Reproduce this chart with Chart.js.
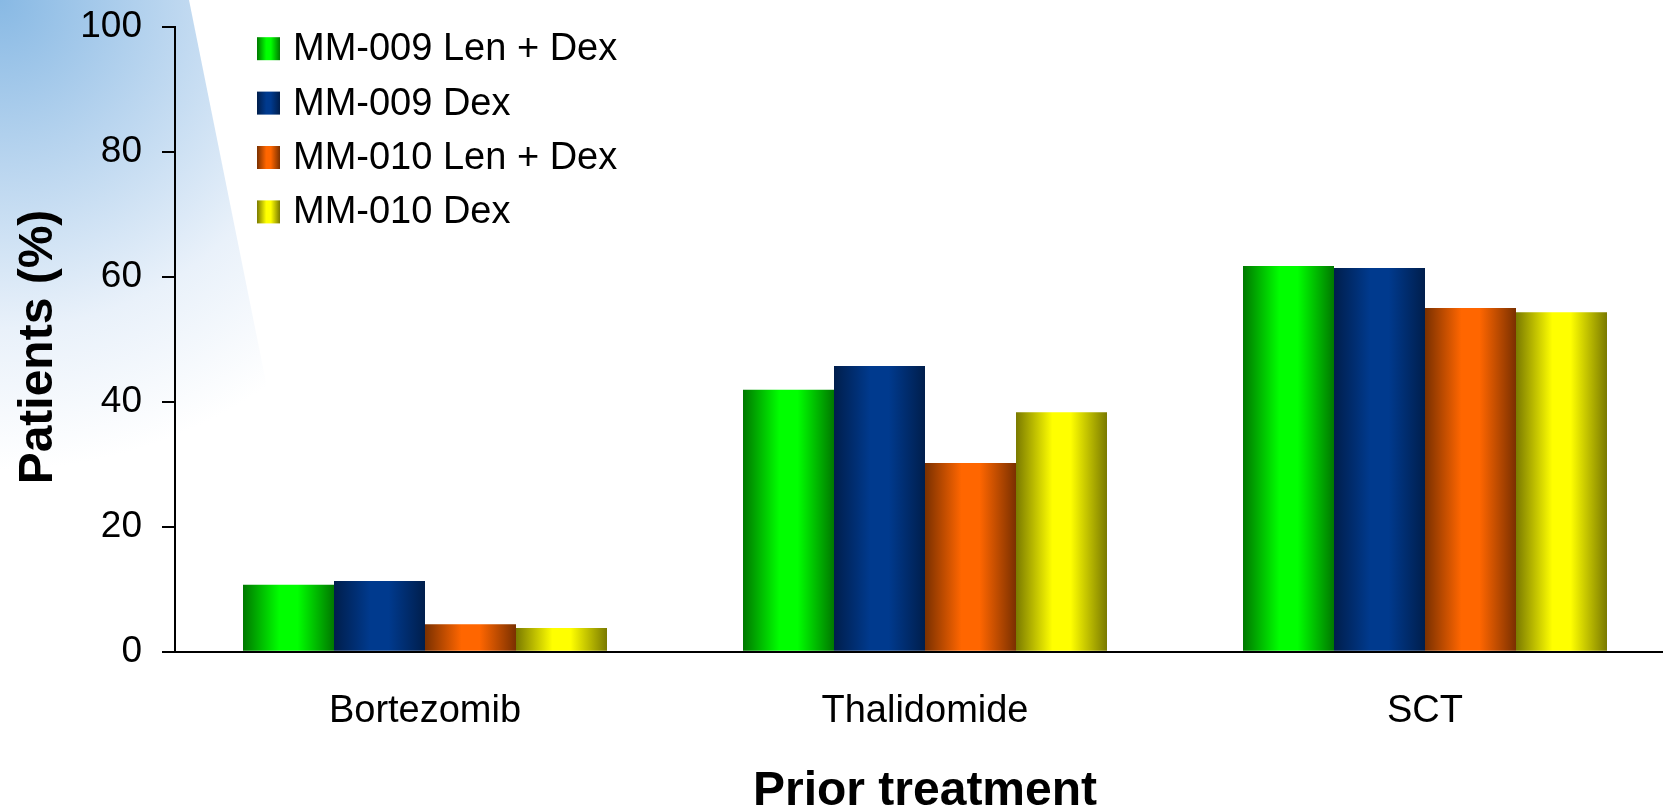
<!DOCTYPE html>
<html>
<head>
<meta charset="utf-8">
<script src="https://cdn.jsdelivr.net/npm/chart.js@4.4.1/dist/chart.umd.min.js"></script>
<style>
  html, body { margin: 0; padding: 0; background: #fff; overflow: hidden; }
  #wrap { width: 1663px; height: 809px; position: relative; overflow: hidden; }
</style>
</head>
<body>
<div id="wrap"><canvas id="c" width="1675" height="809"></canvas></div>
<script>
// ---- data ----
const categories = ['Bortezomib', 'Thalidomide', 'SCT'];
const seriesNames = ['MM-009 Len + Dex', 'MM-009 Dex', 'MM-010 Len + Dex', 'MM-010 Dex'];
const mm009LenDex = [10.7, 41.9, 61.7];
const mm009Dex    = [11.3, 45.7, 61.4];
const mm010LenDex = [4.4, 30.2, 55.0];
const mm010Dex    = [3.8, 38.3, 54.3];
const yTicks = [0, 20, 40, 60, 80, 100];
const yTitle = 'Patients (%)';

// edge / centre colours for the cylinder-style shading of each series
const shades = [
  ['#007800', '#00ff00'],
  ['#001e4c', '#003a8e'],
  ['#7a3000', '#ff6600'],
  ['#7a7a00', '#ffff00']
];

const FONT = "'Liberation Sans', Arial, Helvetica, sans-serif";

function cylinder(ctx, x0, x1, pair) {
  const g = ctx.createLinearGradient(x0, 0, x1, 0);
  g.addColorStop(0, pair[0]);
  g.addColorStop(0.4, pair[1]);
  g.addColorStop(0.6, pair[1]);
  g.addColorStop(1, pair[0]);
  return g;
}

// soft blue wedge in the top-left corner of the slide background
const backdrop = {
  id: 'backdrop',
  beforeDraw(chart) {
    const ctx = chart.ctx;
    ctx.save();
    ctx.fillStyle = '#ffffff';
    ctx.fillRect(0, 0, chart.width, chart.height);
    ctx.beginPath();
    ctx.moveTo(0, 0);
    ctx.lineTo(189, 0);
    ctx.lineTo(330, 700);
    ctx.lineTo(0, 700);
    ctx.closePath();
    ctx.clip();
    const g = ctx.createRadialGradient(0, 0, 0, 0, 0, 470);
    g.addColorStop(0, '#88b9e4');
    g.addColorStop(0.35, '#b9d5ef');
    g.addColorStop(0.7, '#e9f1fa');
    g.addColorStop(1, '#ffffff');
    ctx.fillStyle = g;
    ctx.fillRect(0, 0, 400, 720);
    ctx.restore();
  }
};

// horizontal shading for every bar, built from each bar's own geometry
const shading = {
  id: 'shading',
  beforeDatasetsDraw(chart) {
    const ctx = chart.ctx;
    chart.data.datasets.forEach((ds, i) => {
      const meta = chart.getDatasetMeta(i);
      meta.data.forEach(el => {
        const p = el.getProps(['x', 'width'], true);
        const g = cylinder(ctx, p.x - p.width / 2, p.x + p.width / 2, shades[i]);
        el.options = Object.assign({}, el.options, { backgroundColor: g });
      });
    });
  }
};

// vertical legend inside the plot area, plus the rotated value-axis title
const legendList = {
  id: 'legendList',
  afterDatasetsDraw(chart) {
    const ctx = chart.ctx;
    const box = 23, bx = 257, tx = 293, y0 = 48.7, step = 54.4;
    ctx.save();
    ctx.font = '38px ' + FONT;
    ctx.textBaseline = 'middle';
    ctx.textAlign = 'left';
    chart.data.datasets.forEach((ds, i) => {
      const cy = y0 + i * step;
      ctx.fillStyle = cylinder(ctx, bx, bx + box, shades[i]);
      ctx.fillRect(bx, cy - box / 2, box, box);
      ctx.fillStyle = '#000';
      ctx.fillText(ds.label, tx, cy + 1);
    });
    ctx.restore();

    ctx.save();
    ctx.translate(38.5, 347);
    ctx.rotate(-Math.PI / 2);
    ctx.font = 'bold 48px ' + FONT;
    ctx.textAlign = 'center';
    ctx.textBaseline = 'middle';
    ctx.fillStyle = '#000';
    ctx.fillText(yTitle, 0, 0);
    ctx.restore();
  }
};

const seriesValues = [mm009LenDex, mm009Dex, mm010LenDex, mm010Dex];

new Chart(document.getElementById('c'), {
  type: 'bar',
  data: {
    labels: categories,
    datasets: seriesNames.map((name, i) => ({
      label: name,
      data: seriesValues[i],
      backgroundColor: shades[i][1],
      borderWidth: 0,
      categoryPercentage: 0.728,
      barPercentage: 1.0
    }))
  },
  options: {
    responsive: false,
    animation: false,
    devicePixelRatio: 1,
    layout: { padding: { top: 26.7, right: 0, bottom: 0, left: 0 } },
    plugins: { legend: { display: false }, tooltip: { enabled: false } },
    scales: {
      x: {
        grid: { display: false, drawTicks: false },
        border: { display: true, color: '#000', width: 2 },
        ticks: { color: '#000', font: { family: FONT, size: 38 }, padding: 37 },
        title: {
          display: true, text: 'Prior treatment', color: '#000',
          font: { family: FONT, size: 48, weight: 'bold', lineHeight: 0.73 },
          padding: 0
        },
        afterFit(s) { s.height = 157.3; s.paddingLeft = 0; s.paddingRight = 0; }
      },
      y: {
        min: 0, max: 100,
        afterBuildTicks(s) { s.ticks = yTicks.map(v => ({ value: v })); },
        grid: { display: true, drawOnChartArea: false, drawTicks: true, tickLength: 13, color: '#000', lineWidth: 2 },
        border: { display: true, color: '#000', width: 2 },
        ticks: { color: '#000', font: { family: FONT, size: 37 }, padding: 20 },
        afterFit(s) { s.width = 175; s.paddingTop = 0; s.paddingBottom = 0; }
      }
    }
  },
  plugins: [backdrop, shading, legendList]
});
</script>
</body>
</html>
